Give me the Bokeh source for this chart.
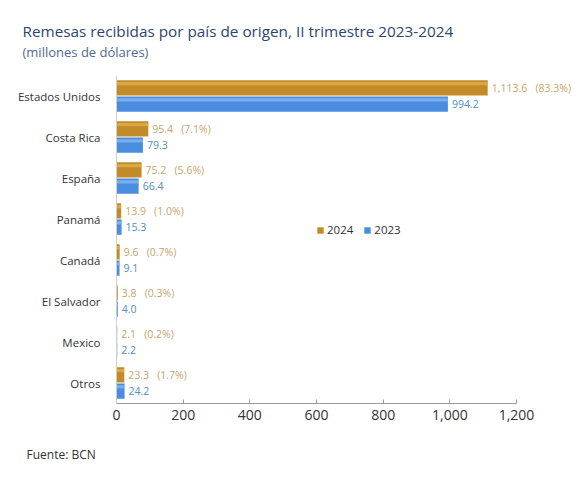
from bokeh.plotting import figure
from bokeh.models import (ColumnDataSource, FactorRange, FixedTicker, NumeralTickFormatter,
                          Title, Legend, LegendItem)
from bokeh.transform import dodge
from bokeh.embed import file_html
from bokeh.resources import INLINE

countries = ["Estados Unidos", "Costa Rica", "España", "Panamá", "Canadá",
             "El Salvador", "Mexico", "Otros"]
v2024 = [1113.6, 95.4, 75.2, 13.9, 9.6, 3.8, 2.1, 23.3]
v2023 = [994.2, 79.3, 66.4, 15.3, 9.1, 4.0, 2.2, 24.2]
share2024 = ["83.3%", "7.1%", "5.6%", "1.0%", "0.7%", "0.3%", "0.2%", "1.7%"]
x_ticks = [0, 200, 400, 600, 800, 1000, 1200]

FONT = "Open Sans"
GOLD = "#C38B26"
GOLD_HI = "#E2B454"
BLUE = "#4A8DE0"
BLUE_HI = "#8DBDF2"
GOLD_TXT = "#C9A46A"
BLUE_TXT = "#4F8DC6"

lab24 = [f"{v:,.1f}\u00a0\u00a0\u00a0({s})" for v, s in zip(v2024, share2024)]
lab23 = [f"{v:,.1f}" for v in v2023]

src = ColumnDataSource(dict(country=countries, v2024=v2024, v2023=v2023,
                            lab24=lab24, lab23=lab23))

p = figure(width=574, height=469, output_backend="svg", toolbar_location=None,
           y_range=FactorRange(factors=list(reversed(countries)), range_padding=0),
           x_range=(0, 1365),
           min_border_left=116, min_border_right=3, min_border_top=75, min_border_bottom=66)

OFF = 0.2
H = 0.37
r24 = p.hbar(y=dodge("country", OFF, range=p.y_range), right="v2024", left=0, height=H,
             source=src, fill_color=GOLD, line_color=None)
p.hbar(y=dodge("country", OFF + H * 0.28, range=p.y_range), right="v2024", left=0, height=H * 0.22,
       source=src, fill_color=GOLD_HI, line_color=None, fill_alpha=0.7)
r23 = p.hbar(y=dodge("country", -OFF, range=p.y_range), right="v2023", left=0, height=H,
             source=src, fill_color=BLUE, line_color=None)
p.hbar(y=dodge("country", -OFF + H * 0.28, range=p.y_range), right="v2023", left=0, height=H * 0.22,
       source=src, fill_color=BLUE_HI, line_color=None, fill_alpha=0.7)

p.text(x="v2024", y=dodge("country", OFF, range=p.y_range), text="lab24", source=src,
       x_offset=4, text_baseline="middle", text_align="left",
       text_font={"value": FONT}, text_font_size="10.5px", text_color=GOLD_TXT)
p.text(x="v2023", y=dodge("country", -OFF, range=p.y_range), text="lab23", source=src,
       x_offset=4, text_baseline="middle", text_align="left",
       text_font={"value": FONT}, text_font_size="10.5px", text_color=BLUE_TXT)

# axes
p.xaxis.ticker = FixedTicker(ticks=x_ticks)
p.xaxis.formatter = NumeralTickFormatter(format="0,0")
p.xaxis.bounds = (0, 1200)
p.xaxis.major_label_text_font = FONT
p.xaxis.major_label_text_font_size = "14px"
p.xaxis.major_label_text_color = "#333333"
p.xaxis.axis_line_color = "#9a9a9a"
p.xaxis.major_tick_line_color = "#9a9a9a"
p.xaxis.major_tick_in = 4
p.xaxis.major_tick_out = 0
p.xaxis.minor_tick_line_color = None
p.xaxis.major_label_standoff = 6

p.yaxis.major_label_text_font = FONT
p.yaxis.major_label_text_font_size = "11.5px"
p.yaxis.major_label_text_color = "#333333"
p.yaxis.axis_line_color = "#cfcfcf"
p.yaxis.major_tick_line_color = None
p.yaxis.minor_tick_line_color = None
p.yaxis.major_label_standoff = 10

p.xgrid.grid_line_color = None
p.ygrid.grid_line_color = None
p.outline_line_color = None

legend = Legend(items=[LegendItem(label="2024", renderers=[r24]),
                       LegendItem(label="2023", renderers=[r23])],
                orientation="horizontal", location=(200, 166),
                glyph_width=8, glyph_height=8, label_text_font=FONT,
                label_text_font_size="11.5px", label_text_color="#333333",
                label_standoff=3, spacing=10, padding=0, margin=0,
                background_fill_alpha=0, border_line_color=None)
p.add_layout(legend, "center")

# title block (stacked outward from the frame: spacer, subtitle, title)
top_gap = Title(text=".", text_font_size="2px", text_color="#ffffff", standoff=12)
sub = Title(text="(millones de dólares)", align="left", offset=-94,
            text_font=FONT, text_font_size="13px", text_font_style="normal",
            text_color="#4F6B90", standoff=0)
ttl = Title(text="Remesas recibidas por país de origen, II trimestre 2023-2024", align="left",
            offset=-94, text_font=FONT, text_font_size="15.3px", text_font_style="normal",
            text_color="#2A4670", standoff=0)
p.add_layout(top_gap, "above")
p.add_layout(sub, "above")
p.add_layout(ttl, "above")

bottom_gap = Title(text=".", text_font_size="2px", text_color="#ffffff", standoff=18)
src_note = Title(text="Fuente: BCN", align="left", offset=-90, text_font=FONT,
                 text_font_size="12px", text_font_style="normal", text_color="#333333",
                 standoff=0)
p.add_layout(bottom_gap, "below")
p.add_layout(src_note, "below")

open("out.html", "w").write(file_html(p, INLINE))
